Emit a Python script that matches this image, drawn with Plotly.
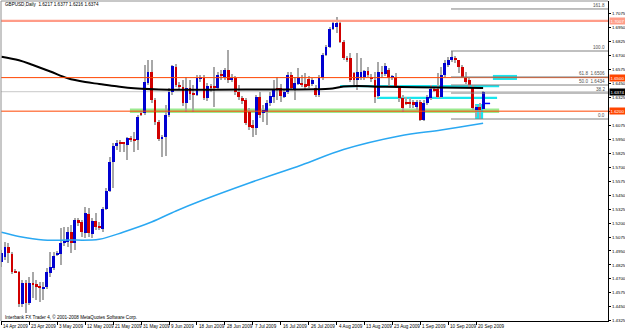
import plotly.graph_objects as go

# ---------------- data (GBPUSD daily) ----------------
opens = [1.4852,1.4896,1.4986,1.4923,1.4771,1.4762,1.4476,1.4664,1.4485,1.4664,
         1.4655,1.4637,1.4610,1.4628,1.4753,1.4798,1.4914,1.4923,1.5022,1.5031,
         1.5120,1.5022,1.5227,1.5209,1.5111,1.5281,1.5102,1.5218,1.5174,1.5147,
         1.5326,1.5486,1.5746,1.5889,1.5925,1.5916,1.5898,1.5960,1.5951,1.5942,
         1.6184,1.6184,1.6452,1.6550,1.6300,1.6103,1.5951,1.5969,1.6166,1.6372,
         1.6595,1.6434,1.6416,1.6273,1.6407,1.6354,1.6345,1.6488,1.6497,1.6318,
         1.6425,1.6425,1.6407,1.6532,1.6506,1.6568,1.6479,1.6497,1.6372,1.6318,
         1.6300,1.6193,1.6076,1.6050,1.6327,1.6184,1.6193,1.6273,1.6327,1.6407,
         1.6407,1.6327,1.6372,1.6523,1.6389,1.6443,1.6452,1.6443,1.6488,1.6443,
         1.6407,1.6345,1.6497,1.6702,1.6774,1.6935,1.6953,1.6988,1.6819,1.6675,
         1.6675,1.6541,1.6479,1.6497,1.6506,1.6559,1.6506,1.6479,1.6336,1.6550,
         1.6532,1.6568,1.6497,1.6506,1.6416,1.6318,1.6282,1.6282,1.6282,1.6237,
         1.6282,1.6121,1.6273,1.6318,1.6398,1.6398,1.6327,1.6523,1.6613,1.6658,
         1.6675,1.6658,1.6595,1.6506,1.6479,1.6416,1.6211,1.6237,1.6217]
highs = [1.4959,1.5031,1.5022,1.4941,1.4789,1.4771,1.4691,1.4691,1.4718,1.4762,
         1.4691,1.4673,1.4673,1.4798,1.4941,1.4941,1.4950,1.5156,1.5165,1.5165,
         1.5182,1.5245,1.5245,1.5227,1.5343,1.5334,1.5245,1.5290,1.5209,1.5343,
         1.5513,1.5790,1.5916,1.5942,1.5942,1.5925,1.5969,1.5978,1.6014,1.6166,
         1.6202,1.6613,1.6658,1.6658,1.6318,1.6121,1.5987,1.6255,1.6407,1.6613,
         1.6622,1.6461,1.6479,1.6506,1.6479,1.6434,1.6523,1.6523,1.6523,1.6452,
         1.6443,1.6595,1.6550,1.6568,1.6586,1.6747,1.6532,1.6515,1.6434,1.6336,
         1.6318,1.6228,1.6121,1.6345,1.6372,1.6255,1.6300,1.6372,1.6479,1.6506,
         1.6443,1.6389,1.6550,1.6550,1.6506,1.6586,1.6523,1.6541,1.6515,1.6497,
         1.6434,1.6523,1.6720,1.6792,1.6953,1.7015,1.7042,1.7015,1.6836,1.6693,
         1.6720,1.6550,1.6720,1.6675,1.6568,1.6595,1.6532,1.6550,1.6640,1.6604,
         1.6631,1.6586,1.6523,1.6541,1.6434,1.6345,1.6327,1.6318,1.6300,1.6300,
         1.6300,1.6300,1.6345,1.6434,1.6425,1.6541,1.6595,1.6658,1.6684,1.6738,
         1.6693,1.6658,1.6613,1.6550,1.6497,1.6434,1.6255,1.6273,1.6377]
lows = [1.4807,1.4870,1.4843,1.4744,1.4753,1.4449,1.4449,1.4396,1.4467,1.4530,
        1.4512,1.4494,1.4512,1.4610,1.4718,1.4780,1.4905,1.4825,1.4995,1.4986,
        1.4932,1.4959,1.5174,1.5075,1.5066,1.5075,1.5066,1.5138,1.5138,1.5120,
        1.5317,1.5478,1.5513,1.5853,1.5835,1.5835,1.5764,1.5925,1.5835,1.5853,
        1.6157,1.6166,1.6434,1.6273,1.6076,1.5933,1.5790,1.5799,1.6148,1.6345,
        1.6416,1.6389,1.6246,1.6193,1.6300,1.6193,1.6336,1.6461,1.6300,1.6291,
        1.6372,1.6237,1.6398,1.6479,1.6479,1.6452,1.6461,1.6345,1.6300,1.6264,
        1.6076,1.6032,1.5969,1.5987,1.6139,1.6103,1.6076,1.6246,1.6273,1.6300,
        1.6282,1.6318,1.6354,1.6389,1.6300,1.6434,1.6416,1.6389,1.6407,1.6425,
        1.6327,1.6327,1.6479,1.6693,1.6765,1.6926,1.6899,1.6810,1.6658,1.6640,
        1.6461,1.6434,1.6389,1.6479,1.6479,1.6506,1.6461,1.6273,1.6318,1.6497,
        1.6515,1.6416,1.6479,1.6407,1.6282,1.6193,1.6255,1.6228,1.6228,1.6211,
        1.6112,1.6112,1.6255,1.6300,1.6372,1.6318,1.6318,1.6506,1.6595,1.6640,
        1.6631,1.6541,1.6497,1.6443,1.6407,1.6211,1.6148,1.6130,1.6216]
closes = [1.4932,1.4986,1.4932,1.4762,1.4762,1.4476,1.4664,1.4485,1.4664,1.4646,
          1.4628,1.4619,1.4628,1.4762,1.4807,1.4905,1.4932,1.5022,1.5039,1.5120,
          1.5022,1.5227,1.5200,1.5120,1.5290,1.5111,1.5218,1.5165,1.5156,1.5326,
          1.5486,1.5746,1.5889,1.5916,1.5907,1.5907,1.5960,1.5951,1.5933,1.6148,
          1.6166,1.6461,1.6550,1.6300,1.6103,1.5951,1.5969,1.6166,1.6372,1.6604,
          1.6434,1.6416,1.6273,1.6407,1.6354,1.6345,1.6497,1.6506,1.6318,1.6425,
          1.6407,1.6407,1.6523,1.6515,1.6568,1.6479,1.6497,1.6372,1.6327,1.6291,
          1.6094,1.6059,1.6050,1.6327,1.6166,1.6211,1.6273,1.6336,1.6389,1.6398,
          1.6336,1.6372,1.6523,1.6407,1.6452,1.6506,1.6434,1.6416,1.6425,1.6479,
          1.6345,1.6497,1.6702,1.6774,1.6935,1.6988,1.6988,1.6819,1.6675,1.6658,
          1.6479,1.6479,1.6550,1.6550,1.6559,1.6523,1.6488,1.6327,1.6550,1.6532,
          1.6604,1.6497,1.6506,1.6416,1.6318,1.6228,1.6273,1.6273,1.6255,1.6282,
          1.6121,1.6273,1.6327,1.6398,1.6389,1.6327,1.6523,1.6631,1.6658,1.6684,
          1.6658,1.6595,1.6506,1.6461,1.6434,1.6228,1.6237,1.6211,1.6374]

date_labels = ["14 Apr 2009", "23 Apr 2009", "3 May 2009", "12 May 2009", "21 May 2009",
               "31 May 2009", "9 Jun 2009", "18 Jun 2009", "28 Jun 2009", "7 Jul 2009",
               "16 Jul 2009", "26 Jul 2009", "4 Aug 2009", "13 Aug 2009", "23 Aug 2009",
               "1 Sep 2009", "10 Sep 2009", "20 Sep 2009"]
label_bars = [0, 8, 16, 24, 32, 40, 48, 56, 64, 72, 80, 88, 96, 104, 112, 120, 128, 136]

# moving averages (sampled along the curve)
ma_slow_bars = [0, 5, 9, 14, 19, 24, 28, 33, 38, 48, 60, 75, 90, 94, 98, 102, 110, 125, 138]
ma_slow_vals = [1.6687, 1.6655, 1.6613, 1.6555, 1.6494, 1.6460, 1.6443, 1.6422, 1.6405,
                1.6392, 1.6392, 1.6394, 1.6396, 1.6400, 1.6420, 1.6425, 1.6418, 1.6412, 1.6408]
ma_fast_bars = [0, 5, 12, 19, 28, 35, 43, 50, 57, 71, 86, 98, 114, 126, 138]
ma_fast_vals = [1.5117, 1.5080, 1.5048, 1.5048, 1.5055, 1.5120, 1.5209, 1.5308, 1.5397,
                1.5558, 1.5719, 1.5857, 1.5978, 1.6032, 1.6092]

y_ticks = [1.4325 + 0.0125 * k for k in range(23)]
y_ticktext = ["%.4f" % v for v in y_ticks]

hlines = [(1.7007, "#FF9C88", 2.2), (1.6500, "#FF4500", 1), (1.6200, "#FF4500", 1)]
bid_price = 1.6374
fib_low, fib_high = 1.6130, 1.6738
fib_start = 128.8
fib_levels = [0.0, 0.382, 0.5, 0.618, 1.0, 1.618]

title_text = "GBPUSD,Daily  1.6217 1.6377 1.6216 1.6374"
copyright_text = "Interbank FX Trader 4, \u00a9 2001-2008 MetaQuotes Software Corp."

# ---------------- figure ----------------
n = len(opens)
idx = list(range(n))
BLUE = "#0000D0"
RED = "#D00000"
WICK = "#A8A8A8"
CYAN = "#19E6EE"
FONT = "Liberation Sans"
FS = 4.6
FSY = 4.4
XMAX = 173.78

fig = go.Figure()
fig.add_trace(go.Bar(x=idx, base=lows, y=[h - l for h, l in zip(highs, lows)], width=0.3,
                     marker=dict(color=WICK, line=dict(width=0)), hoverinfo="skip", showlegend=False))
fig.add_trace(go.Bar(x=idx, base=[min(o, c) for o, c in zip(opens, closes)],
                     y=[max(abs(c - o), 0.0008) for o, c in zip(opens, closes)], width=0.8,
                     marker=dict(color=[BLUE if c >= o else RED for o, c in zip(opens, closes)],
                                 line=dict(width=0)), hoverinfo="skip", showlegend=False))
fig.add_trace(go.Scatter(x=ma_slow_bars, y=ma_slow_vals, mode="lines",
                         line=dict(color="#000000", width=2, shape="spline"), showlegend=False))
fig.add_trace(go.Scatter(x=ma_fast_bars, y=ma_fast_vals, mode="lines",
                         line=dict(color="#2AA8F2", width=1.5, shape="spline"), showlegend=False))

shapes = []
# background rectangles
shapes.append(dict(type="rect", xref="x", yref="y", x0=36.8, x1=142.6, y0=1.6184, y1=1.6224,
                   fillcolor="#9BEA8F", line=dict(width=0), layer="below"))
shapes.append(dict(type="rect", xref="x", yref="y", x0=97, x1=142.6, y0=1.6414, y1=1.6434,
                   fillcolor=CYAN, line=dict(width=0), layer="below"))
shapes.append(dict(type="rect", xref="x", yref="y", x0=107.6, x1=142, y0=1.6309, y1=1.6330,
                   fillcolor=CYAN, line=dict(width=0), layer="below"))
shapes.append(dict(type="rect", xref="x", yref="y", x0=140.8, x1=147.7, y0=1.6479, y1=1.6524,
                   fillcolor=CYAN, line=dict(width=0), layer="below"))
shapes.append(dict(type="rect", xref="x", yref="y", x0=135.7, x1=138.0, y0=1.6130, y1=1.6264,
                   fillcolor=CYAN, line=dict(width=0), layer="below"))
# bid line
shapes.append(dict(type="line", xref="paper", yref="y", x0=0, x1=1, y0=bid_price, y1=bid_price,
                   line=dict(color="#C8C8C8", width=1), layer="below"))
# horizontal levels
for price, col, w in hlines:
    shapes.append(dict(type="line", xref="paper", yref="y", x0=0, x1=1, y0=price, y1=price,
                       line=dict(color=col, width=w), layer="above"))
# fibonacci
for lv in fib_levels:
    p = fib_low + lv * (fib_high - fib_low)
    shapes.append(dict(type="line", xref="x", yref="y", x0=fib_start, x1=XMAX, y0=p, y1=p,
                       line=dict(color="#808080", width=1), layer="above"))
# blue short line
shapes.append(dict(type="line", xref="x", yref="y", x0=137.7, x1=140.0, y0=1.6269, y1=1.6269,
                   line=dict(color="#0000FF", width=1.5), layer="above"))
# frame (left / top)
shapes.append(dict(type="line", xref="paper", yref="paper", x0=0, x1=0, y0=0, y1=1,
                   line=dict(color="#909090", width=1)))
shapes.append(dict(type="line", xref="paper", yref="paper", x0=0, x1=1, y0=1, y1=1,
                   line=dict(color="#909090", width=1)))

ann = []
small = dict(family=FONT, size=FS, color="#000000")
for b, t in zip(label_bars, date_labels):
    ann.append(dict(x=b, xref="x", y=-0.016, yref="paper", text=t, showarrow=False,
                    xanchor="left", yanchor="middle", font=small, xshift=0))
ann.append(dict(x=0.004, xref="paper", y=0.988, yref="paper", text=title_text, showarrow=False,
                xanchor="left", yanchor="middle", font=small))
ann.append(dict(x=0.004, xref="paper", y=0.014, yref="paper", text=copyright_text, showarrow=False,
                xanchor="left", yanchor="middle", font=small))
# fibo labels
fib_names = {0.0: "0.0", 0.382: "38.2", 0.5: "50.0", 0.618: "61.8", 1.0: "100.0", 1.618: "161.8"}
for lv in fib_levels:
    p = fib_low + lv * (fib_high - fib_low)
    txt = fib_names[lv]
    if lv in (0.5, 0.618):
        txt = "%s  %.4f" % (txt, p)
    ann.append(dict(x=XMAX - 0.3, xref="x", y=p, yref="y", text=txt, showarrow=False,
                    xanchor="right", yanchor="bottom", font=dict(family=FONT, size=FS, color="#505050"),
                    yshift=-1))
# price boxes on axis
boxes = [(1.7007, "#FF9C88"), (1.6500, "#FF4500"), (bid_price, "#000000"), (1.6200, "#FF4500")]
for price, col in boxes:
    ann.append(dict(x=1, xref="paper", y=price, yref="y", text="%.4f" % price, showarrow=False,
                    xanchor="left", yanchor="middle", bgcolor=col, borderpad=0.5, xshift=1,
                    font=dict(family=FONT, size=FSY, color="#FFFFFF")))

fig.update_layout(
    width=625, height=330,
    margin=dict(l=1, r=17, t=1, b=9),
    paper_bgcolor="#FFFFFF", plot_bgcolor="#FFFFFF",
    barmode="overlay", bargap=0,
    showlegend=False,
    shapes=shapes, annotations=ann,
    xaxis=dict(range=[-0.14, XMAX], showgrid=False, zeroline=False, showline=True,
               linecolor="#000000", linewidth=1, ticks="outside", ticklen=3, tickcolor="#000000",
               tickvals=label_bars, showticklabels=False, fixedrange=True),
    yaxis=dict(range=[1.4324, 1.7185], side="right", showgrid=False, zeroline=False, showline=True,
               linecolor="#000000", linewidth=1, ticks="outside", ticklen=2, tickcolor="#000000",
               tickvals=y_ticks, ticktext=y_ticktext, tickfont=dict(family=FONT, size=FSY, color="#000000"),
               automargin=False, fixedrange=True),
    font=dict(family=FONT),
)

fig.write_html("out.html")
